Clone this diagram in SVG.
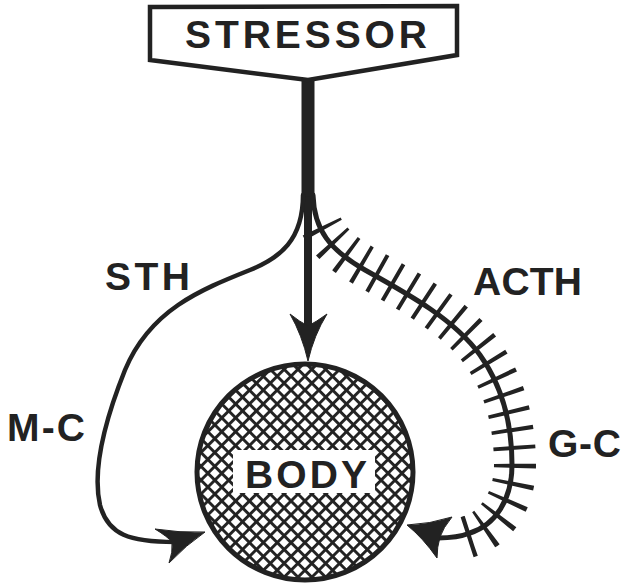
<svg xmlns="http://www.w3.org/2000/svg" width="621" height="587" viewBox="0 0 621 587">
<style>
.lbl{font-family:"Liberation Sans",Arial,sans-serif;font-weight:bold;font-size:39px;fill:#222}
.ln{fill:none;stroke:#222;stroke-linecap:round}
.ah{fill:#222;stroke:#222;stroke-width:1;stroke-linejoin:round}
</style>
<defs>
<pattern id="hatch" patternUnits="userSpaceOnUse" width="9.8" height="9.8" patternTransform="rotate(45)">
<rect width="9.8" height="9.8" fill="#fff"/>
<rect width="9.8" height="2.9" fill="#222"/>
<rect width="2.9" height="9.8" fill="#222"/>
</pattern>
</defs>
<rect width="621" height="587" fill="#fff"/>
<g id="connectors">
<rect x="301.5" y="78" width="13" height="130" fill="#222"/>
<path class="ln" d="M308,200 L308,330" stroke-width="8"/>
<path class="ah" d="M308,361 Q302,335 290,314 Q300,322 308,326 Q316,322 327,314 Q314,335 308,361 Z"/>
<path class="ln" stroke-width="4.5" d="M303,195 C303,240 280,258 250,270 C200,290 150,310 125,370 C105,420 92,470 100,505 C108,535 130,542 175,542"/>
<path class="ah" d="M205,532 Q180,533 155,529 Q168,537 172,542 Q173,552 169,563 Q186,545 205,532 Z"/>
<path class="ln" stroke-width="5" d="M313,195 C314,230 330,250 365,270 C410,295 455,320 480,355 C505,390 512,430 512,465 C512,500 495,525 470,533 C460,537 450,538 438,538"/>
<path fill="none" stroke="#222" stroke-width="42" stroke-dasharray="4 14" stroke-dashoffset="-2" d="M320.9,224.7 C328,241.1 342.7,254.2 366.5,267.4 C411.5,292.4 457.4,318.3 482.4,353.3 C507.4,388.3 515,430 515,465 C515,500 495.9,527.9 470.9,535.9 C462,539 457,540 455,541"/>
<path class="ah" d="M407,525 Q430,524 452,517 Q443,528 440,537 Q437,547 437,558 Q423,538 407,525 Z"/>
</g>
<g id="stressor">
<polygon points="150,7 457,6 457,55 308,80 150,60" fill="#fff" stroke="#222" stroke-width="4.5" stroke-linejoin="miter"/>
<text class="lbl" x="185" y="48" textLength="242" lengthAdjust="spacing">STRESSOR</text>
</g>
<g id="body">
<circle cx="305" cy="472" r="108" fill="url(#hatch)" stroke="#222" stroke-width="5"/>
<rect x="233" y="450" width="142" height="43" fill="#fff"/>
<text class="lbl" x="245" y="488" textLength="122" lengthAdjust="spacing">BODY</text>
</g>
<g id="labels">
<text class="lbl" x="105" y="290" textLength="85" lengthAdjust="spacing">STH</text>
<text class="lbl" x="473" y="295" textLength="109" lengthAdjust="spacing">ACTH</text>
<text class="lbl" x="7" y="441" textLength="78" lengthAdjust="spacing">M-C</text>
<text class="lbl" x="548" y="457" textLength="73" lengthAdjust="spacing">G-C</text>
</g>
</svg>
